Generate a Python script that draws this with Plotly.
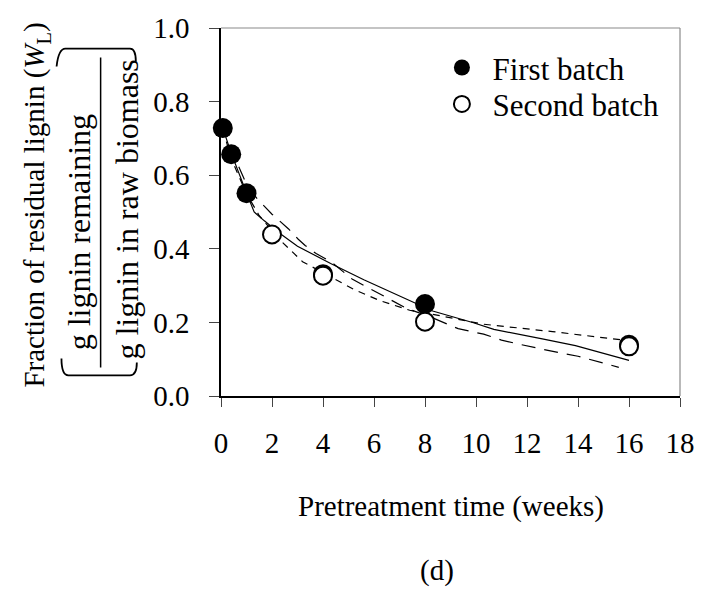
import plotly.graph_objects as go

# Measured lignin fractions (weeks, fraction remaining)
t_first = [0.07, 0.4, 1.0, 4.0, 8.0, 16.0]
w_first = [0.728, 0.657, 0.551, 0.331, 0.250, 0.139]

t_second = [2.0, 4.0, 8.0, 16.0]
w_second = [0.439, 0.327, 0.202, 0.135]

# Model curves
t_fit_solid = [0.07, 0.4, 1.0, 1.3, 1.7, 2.3, 3.0, 4.3, 5.6, 6.9, 7.8, 8.3, 9.9, 10.7, 12.6, 13.9, 16.0]
w_fit_solid = [0.728, 0.66, 0.552, 0.50, 0.476, 0.442, 0.407, 0.36, 0.316, 0.275, 0.248, 0.231, 0.199, 0.181, 0.155, 0.137, 0.097]

t_fit_long = [0.07, 0.4, 1.0, 1.43, 2.0, 2.65, 3.03, 3.3, 3.73, 4.31, 5.14, 5.46, 6.04, 6.42, 7.25,
              8.28, 8.79, 9.3, 10.3, 11.0, 11.67, 12.5, 13.3, 14.0, 14.8, 15.6]
w_fit_long = [0.74, 0.67, 0.575, 0.535, 0.494, 0.454, 0.426, 0.409, 0.387, 0.365, 0.318, 0.306, 0.284, 0.271, 0.239,
              0.213, 0.197, 0.183, 0.168, 0.152, 0.141, 0.128, 0.117, 0.108, 0.093, 0.078]

t_fit_short = [0.07, 0.4, 1.0, 1.5, 2.0, 2.4, 3.2, 4.6, 5.2, 6.2, 7.4, 8.3, 10.3, 13.0, 15.6, 16.0]
w_fit_short = [0.725, 0.645, 0.55, 0.49, 0.45, 0.418, 0.365, 0.311, 0.29, 0.26, 0.233, 0.222, 0.195, 0.175, 0.152, 0.15]

x_ticks = [0, 2, 4, 6, 8, 10, 12, 14, 16, 18]
y_ticks = [0.0, 0.2, 0.4, 0.6, 0.8, 1.0]

FONT = "Liberation Serif, Times New Roman, serif"

# plot-area geometry in pixels
W, H = 707, 592
L, R, T, B = 221, 690, 23, 396


def P(x, y):
    """pixel position -> paper coordinates"""
    return (x - L) / (R - L), (B - y) / (B - T)


fig = go.Figure()

fig.add_trace(go.Scatter(x=t_fit_long, y=w_fit_long, mode="lines", showlegend=False,
                         line=dict(color="black", width=1.2, dash="14px,9px")))
fig.add_trace(go.Scatter(x=t_fit_short, y=w_fit_short, mode="lines", showlegend=False,
                         line=dict(color="black", width=1.2, dash="7px,6px")))
fig.add_trace(go.Scatter(x=t_fit_solid, y=w_fit_solid, mode="lines", showlegend=False,
                         line=dict(color="black", width=1.2)))

fig.add_trace(go.Scatter(x=t_first, y=w_first, mode="markers", name="First batch",
                         cliponaxis=False, legend="legend",
                         marker=dict(size=20, color="black", line=dict(width=0))))
fig.add_trace(go.Scatter(x=t_second, y=w_second, mode="markers", name="Second batch",
                         cliponaxis=False, legend="legend2",
                         marker=dict(size=18, color="white", line=dict(width=2, color="black"))))

# thin frame on top and right
shapes = [
    dict(type="line", xref="paper", yref="paper", x0=0, x1=1, y0=1, y1=1,
         line=dict(color="#8a8a8a", width=1.2)),
    dict(type="line", xref="paper", yref="paper", x0=1, x1=1, y0=0, y1=1,
         line=dict(color="#8a8a8a", width=1.2)),
]

# fraction bar of the y-axis label
bx0, by0 = P(98, 53)
bx1, by1 = P(98, 367)
shapes.append(dict(type="line", xref="paper", yref="paper", x0=bx0, x1=bx1, y0=by0, y1=by1,
                   line=dict(color="black", width=1.5)))


def path(cmds):
    out = []
    for c in cmds:
        if isinstance(c, str):
            out.append(c)
        else:
            px, py = P(*c)
            out.append(f"{px:.5f},{py:.5f}")
    return " ".join(out)


# brackets around the fraction
shapes.append(dict(type="path", xref="paper", yref="paper",
                   path=path(["M", (53, 62), "Q", (55, 44), (62, 44), "L", (128, 44), "Q", (134, 44), (134, 57)]),
                   line=dict(color="black", width=1.8)))
shapes.append(dict(type="path", xref="paper", yref="paper",
                   path=path(["M", (58, 358), "Q", (58, 375), (65, 375), "L", (128, 375), "Q", (135, 375), (135, 362)]),
                   line=dict(color="black", width=1.8)))

annotations = []


def label(text, x, y, size, angle=0):
    ax, ay = P(x, y)
    annotations.append(dict(text=text, x=ax, y=ay, xref="paper", yref="paper",
                            xanchor="center", yanchor="middle", showarrow=False,
                            textangle=angle, font=dict(family=FONT, size=size, color="black")))


label("Pretreatment time (weeks)", 456, 508, 29)
label("(d)", 442, 573, 29)
label("Fraction of residual lignin (<i>W</i><sub>L</sub>)", 32, 203, 29, -90)
label("g lignin remaining", 76, 230, 32, -90)
label("g lignin in raw biomass", 124, 207, 32, -90)

legend_common = dict(xanchor="left", yanchor="top", bgcolor="rgba(0,0,0,0)",
                     font=dict(family=FONT, size=31), itemwidth=51)

fig.update_layout(
    width=W, height=H,
    margin=dict(l=L, r=W - R, t=T, b=H - B, pad=0),
    paper_bgcolor="white", plot_bgcolor="white",
    font=dict(family=FONT, size=29, color="black"),
    shapes=shapes, annotations=annotations,
    legend=dict(x=P(436, 0)[0], y=P(0, 36)[1], **legend_common),
    legend2=dict(x=P(436, 0)[0], y=P(0, 73)[1], **legend_common),
    xaxis=dict(range=[0, 18], tickvals=x_ticks, ticks="outside", ticklen=9, tickwidth=1.2,
               showline=True, linecolor="black", linewidth=1.5, showgrid=False, zeroline=False,
               tickfont=dict(family=FONT, size=29), ticklabelstandoff=11),
    yaxis=dict(range=[0, 1], tickvals=y_ticks, tickformat=".1f", ticks="outside", ticklen=10,
               tickwidth=1.2, showline=True, linecolor="black", linewidth=1.5, showgrid=False,
               zeroline=False, tickfont=dict(family=FONT, size=29), ticklabelstandoff=14),
)

fig.write_html("out.html")
